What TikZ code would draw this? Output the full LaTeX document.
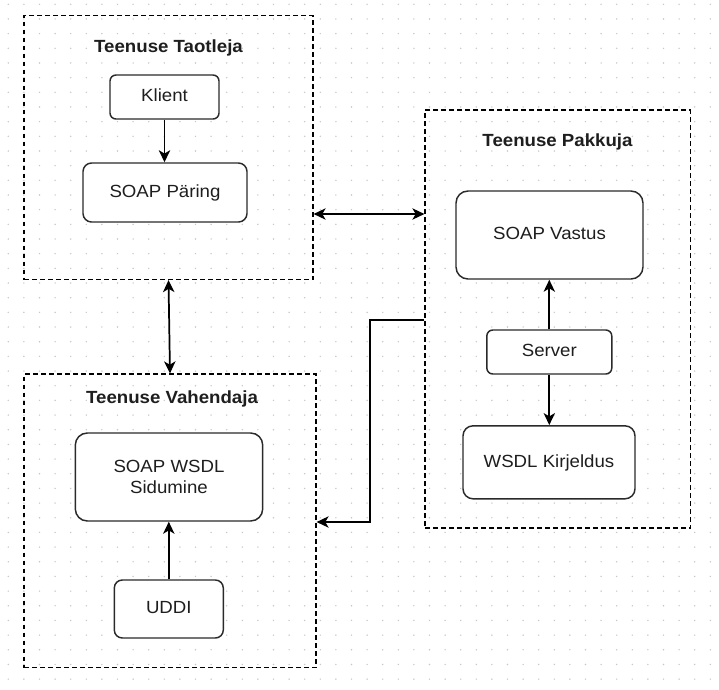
\documentclass[tikz,border=0pt]{standalone}
\usepackage{fontspec}
\setmainfont{Liberation Sans}[FakeStretch=1.06]
\usetikzlibrary{arrows.meta}
\definecolor{griddot}{HTML}{C8C8C8}
\definecolor{ink}{HTML}{1E1E1E}
\definecolor{edge}{HTML}{2A2A2A}
\begin{document}
\begin{tikzpicture}[x=0.75pt,y=-0.75pt,
  every node/.style={font=\fontsize{13.2pt}{15.8pt}\selectfont, text=ink},
  group/.style 2 args={draw, line width=0.9pt, dash pattern=on 3.4pt off 2.6pt,
    minimum width=#1*0.75pt, minimum height=#2*0.75pt, inner sep=0pt},
  grouptitle/.style={anchor=base, font=\fontsize{13.2pt}{15.8pt}\selectfont\bfseries},
  item/.style n args={3}{draw=edge, fill=white, line width=1.1pt, align=center,
    minimum width=#1*0.75pt, minimum height=#2*0.75pt, rounded corners=#3*0.75pt,
    inner sep=0pt},
  oneline/.style={text height=0.72em, text depth=0pt},
  tip/.tip={Stealth[length=9pt,width=8.5pt,inset=2.5pt]},
  link/.style={line width=1.3pt, -tip},
  dlink/.style={line width=1.3pt, tip-tip}]

% page and dotted grid
\useasboundingbox[fill=white] (0,0) rectangle (719,690);
\foreach \i in {0,...,45}
  \foreach \j in {0,...,46}
    \fill[griddot] (8.3+15.6*\i, 4.3+14.67*\j) circle[radius=0.6pt];

% containers
\node[group={289}{264}] (taotleja) at (168.5,147.5) {};
\node[group={265.5}{418}] (pakkuja) at (557.75,319) {};
\node[group={292}{293.5}] (vahendaja) at (170,520.75) {};

\node[grouptitle] (taotlejaT) at (168.5,52.5) {Teenuse Taotleja};
\node[grouptitle] (pakkujaT) at (557.5,146) {Teenuse Pakkuja};
\node[grouptitle] (vahendajaT) at (172,403.3) {Teenuse Vahendaja};

% requester
\node[item={109}{44}{6}, oneline] (klient) at (164.5,97) {Klient};
\node[item={164}{59}{8.5}, oneline] (paring) at (165,192.5) {SOAP Päring};

% provider
\node[item={187}{88}{12}, oneline] (vastus) at (549.5,235) {SOAP Vastus};
\node[item={125}{44}{6}, oneline] (server) at (549.3,352) {Server};
\node[item={172}{73}{10}, oneline] (wsdl) at (549,462.3) {WSDL Kirjeldus};

% broker
\node[item={187.4}{88}{12}] (sidumine) at (169,477) {SOAP WSDL\\Sidumine};
\node[item={109}{58}{8}, oneline] (uddi) at (168.8,609) {UDDI};

% connectors inside the groups
\draw[link] (klient.south) -- (klient.south |- paring.north);
\draw[link] (server.north) -- (server.north |- vastus.south);
\draw[link] (server.south) -- (server.south |- wsdl.north);
\draw[link] (uddi.north) -- (uddi.north |- sidumine.south);

% connectors between the groups
\coordinate (hy) at (0,214);
\draw[dlink] (taotleja.east |- hy) -- (pakkuja.west |- hy);
\draw[dlink] (taotleja.south) -- (vahendaja.north);
\coordinate (bend1) at (370,320);
\coordinate (bend2) at (370,522);
\draw[link] (pakkuja.west |- bend1) -- (bend1) -- (bend2) -- (vahendaja.east |- bend2);
\end{tikzpicture}
\end{document}
